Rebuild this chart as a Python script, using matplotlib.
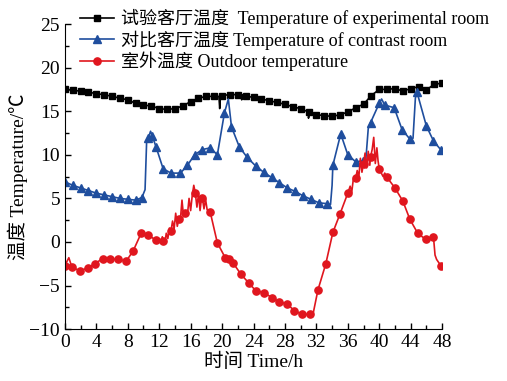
import numpy as np
import matplotlib
matplotlib.use("Agg")
import matplotlib.pyplot as plt
from matplotlib.ticker import MultipleLocator

plt.rcParams['font.family'] = ['Liberation Serif', 'Noto Sans CJK SC', 'DejaVu Sans']
plt.rcParams['axes.unicode_minus'] = True

# 试验客厅 (black, squares) - markers
exp_t = list(range(49))
exp_v = [17.5, 17.4, 17.3, 17.2, 17.0, 16.9, 16.7, 16.5, 16.3, 15.9, 15.7, 15.6,
         15.3, 15.2, 15.3, 15.6, 16.1, 16.5, 16.7, 16.7, 16.8, 16.9, 16.9, 16.7,
         16.6, 16.4, 16.2, 16.0, 15.8, 15.5, 15.3, 14.9, 14.6, 14.5, 14.4, 14.6,
         14.9, 15.4, 15.8, 16.8, 17.5, 17.5, 17.6, 17.3, 17.6, 17.8, 17.4, 18.1, 18.2]
# extra line points (glitches between markers)
exp_xt = [19.6, 19.7, 19.8, 22.4, 22.5, 22.6, 31.0, 31.1, 45.9, 46.0, 46.1]
exp_xv = [16.7, 15.3, 16.8, 16.9, 16.3, 16.9, 14.2, 14.9, 17.6, 17.1, 17.5]

# 对比客厅 (blue, triangles)
con_t = [0, 1, 2, 3, 4, 5, 6, 7, 8, 9, 9.8, 10.6, 11.1, 11.6, 12.5, 13.5, 14.7,
         15.6, 16.5, 17.5, 18.5, 19.4, 20.3, 21.2, 22.2, 23.2, 24.3, 25.3, 26.3,
         27.3, 28.3, 29.3, 30.3, 31.3, 32.3, 33.3, 34.1, 35.1, 36.0, 37.0, 37.9,
         38.9, 40.0, 40.7, 41.9, 42.9, 43.9, 44.8, 46.0, 46.9, 47.9]
con_v = [6.9, 6.5, 6.2, 5.9, 5.6, 5.4, 5.2, 5.0, 4.9, 4.8, 5.1, 11.9, 12.2, 10.9,
         8.4, 7.9, 7.9, 8.8, 10.0, 10.6, 10.8, 10.0, 14.8, 13.2, 10.9, 9.7, 8.7,
         8.0, 7.4, 6.8, 6.2, 5.8, 5.3, 4.9, 4.5, 4.4, 8.8, 12.4, 10.0, 9.2, 9.3,
         13.7, 15.9, 15.7, 15.4, 12.9, 11.8, 17.2, 13.3, 11.6, 10.5]
con_xt = [10.2, 10.4, 10.9, 20.8, 33.8, 34.0, 38.3, 38.6, 40.3, 44.3, 44.6]
con_xv = [6.0, 11.5, 12.7, 16.4, 4.3, 6.5, 9.5, 13.0, 16.4, 11.9, 16.5]

# 室外温度 (red, circles)
out_t = [0, 0.9, 1.9, 2.9, 3.8, 4.8, 5.7, 6.8, 7.8, 8.7, 9.7, 10.6, 11.6, 12.5,
         13.5, 14.5, 15.3, 16.6, 17.5, 18.5, 19.4, 20.4, 20.9, 21.4, 22.4, 23.4,
         24.3, 25.3, 26.4, 27.3, 28.3, 29.2, 30.2, 31.2, 32.2, 33.2, 34.1, 35.0,
         36.0, 37.0, 38.0, 38.9, 40.0, 41.0, 42.0, 43.0, 43.9, 44.9, 45.9, 46.9, 47.9]
out_v = [-2.7, -2.9, -3.3, -3.0, -2.5, -1.9, -1.95, -2.0, -2.2, -1.0, 1.0, 0.8,
         0.2, 0.1, 1.3, 2.6, 3.3, 5.6, 5.0, 3.4, -0.1, -1.8, -1.9, -2.4, -3.7,
         -4.7, -5.6, -5.8, -6.4, -6.9, -7.1, -7.9, -8.3, -8.3, -5.5, -2.5, 1.1,
         3.2, 5.6, 7.3, 9.0, 9.8, 8.4, 7.4, 6.2, 4.7, 2.6, 1.0, 0.3, 0.6, -2.8]
out_xt = [0.5, 12.2, 12.4, 12.7, 12.9, 13.1, 13.3, 13.7, 13.9, 14.1, 14.3, 14.7,
          14.9, 15.1, 15.6, 15.8, 16.0, 16.2, 16.4, 16.8, 17.0, 17.2, 17.4, 17.7,
          17.9, 18.1, 31.5, 36.3, 36.5, 36.7, 37.2, 37.4, 37.6, 37.8, 38.2, 38.4,
          38.6, 38.8, 39.1, 39.3, 39.5, 39.7, 39.85, 40.2, 40.5, 40.7, 47.1, 47.3]
out_xv = [-1.8, 0.0, 0.6, -0.2, 1.0, 0.4, 1.6, 2.4, 1.5, 3.3, 1.8, 2.6,
          4.8, 2.9, 3.2, 5.0, 3.6, 5.3, 6.5, 4.0, 5.5, 3.6, 5.2, 3.8,
          4.9, 3.7, -8.6, 6.4, 5.7, 7.2, 8.2, 7.4, 9.6, 8.0, 10.2, 8.5,
          10.4, 8.8, 10.6, 12.0, 9.0, 10.8, 9.3, 8.0, 7.5, 7.9, -1.5, -2.0]

labels = ['试验客厅温度  Temperature of experimental room',
          '对比客厅温度 Temperature of contrast room',
          '室外温度 Outdoor temperature']


def merged(t, v, xt, xv):
    tt = np.array(list(t) + list(xt))
    vv = np.array(list(v) + list(xv))
    o = np.argsort(tt, kind='stable')
    return tt[o], vv[o]


fig = plt.figure(figsize=(5.07, 3.81), dpi=100)
ax = fig.add_axes([0.128, 0.136, 0.744, 0.801])

series = [
    (exp_t, exp_v, exp_xt, exp_xv, 'black', 's', 4.6),
    (con_t, con_v, con_xt, con_xv, '#1f4e9e', '^', 5.4),
    (out_t, out_v, out_xt, out_xv, '#e0161e', 'o', 5.2),
]
handles = []
for (t, v, xt, xv, c, m, ms), lab in zip(series, labels):
    lt, lv = merged(t, v, xt, xv)
    ax.plot(lt, lv, color=c, lw=1.2)
    ax.plot(t, v, ls='none', marker=m, ms=ms, color=c)
    h, = ax.plot([], [], color=c, lw=1.2, marker=m, ms=ms, label=lab)
    handles.append(h)

ax.set_xlim(0, 48)
ax.set_ylim(-10, 25)
ax.xaxis.set_major_locator(MultipleLocator(4))
ax.xaxis.set_minor_locator(MultipleLocator(2))
ax.yaxis.set_major_locator(MultipleLocator(5))
ax.yaxis.set_minor_locator(MultipleLocator(2.5))
ax.tick_params(which='both', direction='in', labelsize=14, width=1)
ax.tick_params(which='major', length=4)
ax.tick_params(which='minor', length=3)
ax.spines['top'].set_visible(False)
ax.spines['right'].set_visible(False)
ax.set_xlabel('时间 Time/h', fontsize=14, labelpad=1)
ax.set_ylabel('温度 Temperature/℃', fontsize=14, labelpad=1)

fig.legend(handles=handles, loc='upper left', bbox_to_anchor=(0.14, 1.0),
           frameon=False, fontsize=13, handlelength=1.9, handletextpad=0.35,
           labelspacing=0.12, borderaxespad=0.1)

fig.savefig('out.png', dpi=100)
